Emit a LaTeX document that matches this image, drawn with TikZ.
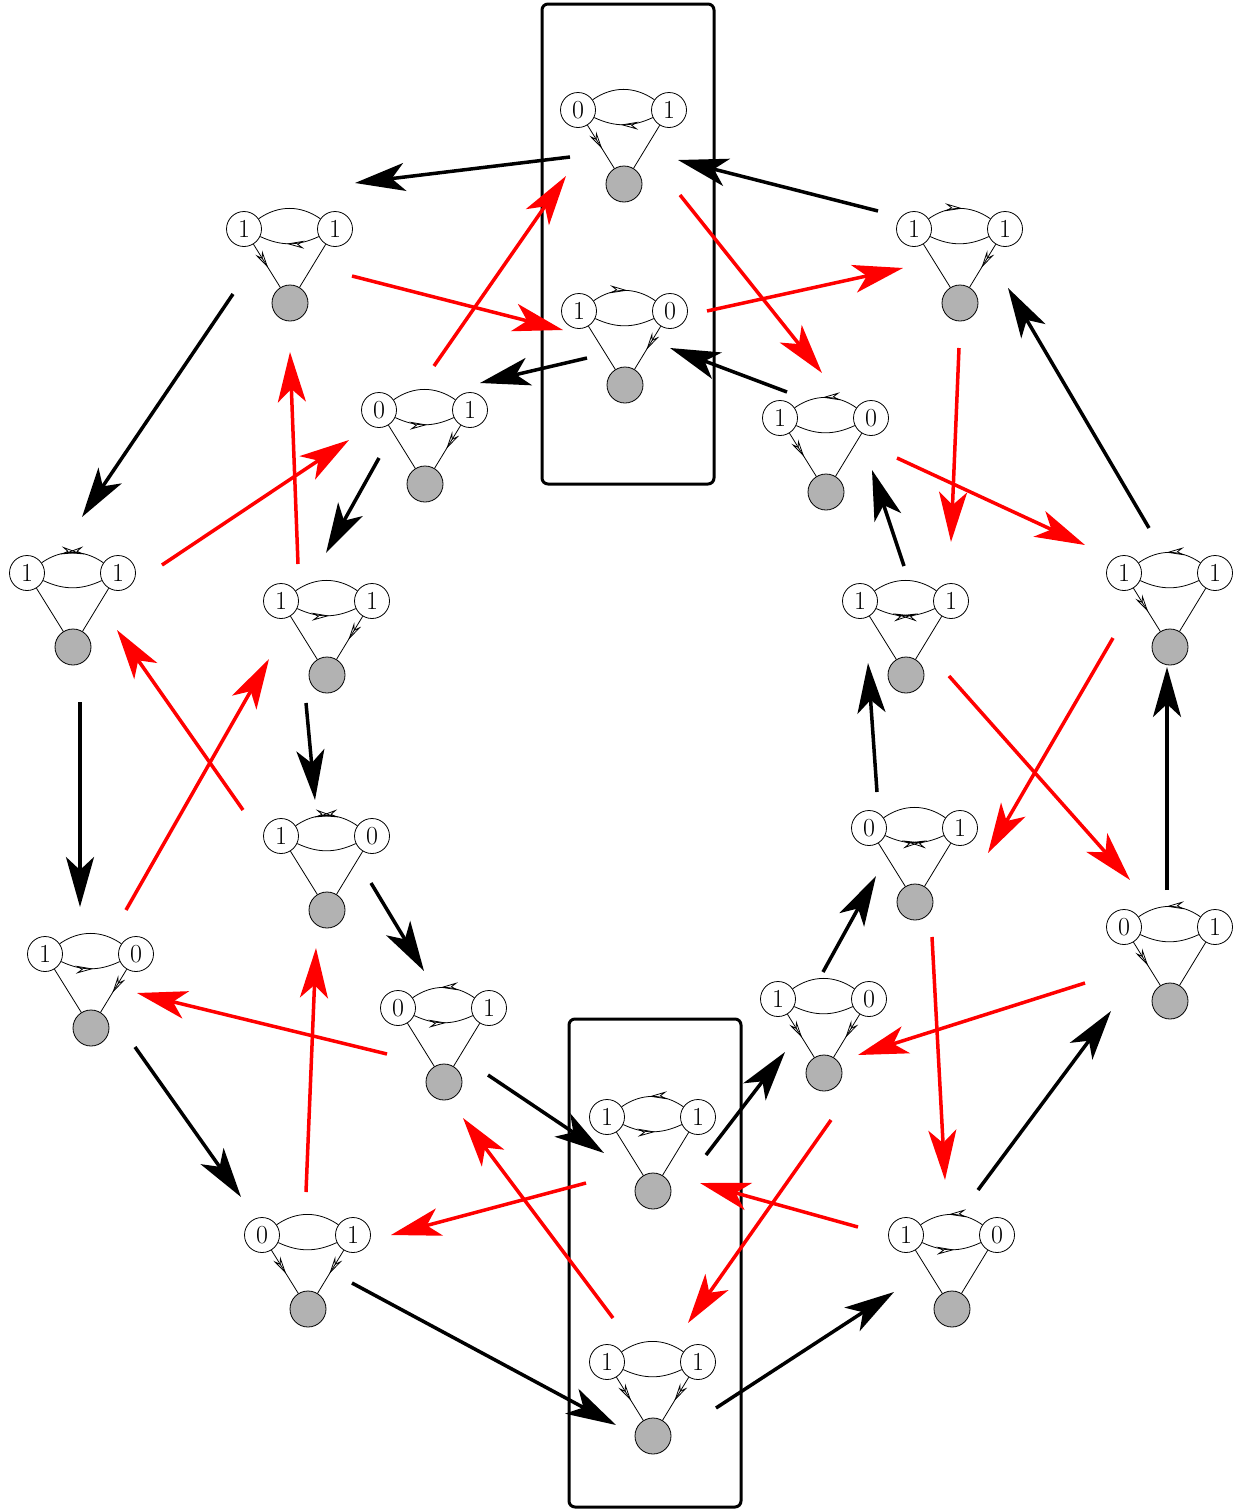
\documentclass[tikz,border=0pt]{standalone}
\usetikzlibrary{arrows.meta,decorations.markings}
\tikzset{
  st/.style={circle,draw,line width=0.8pt,minimum size=35pt,inner sep=0pt,fill=white,font=\fontsize{26}{28}\selectfont},
  gn/.style={circle,draw,line width=0.8pt,fill=black!30,minimum size=36pt,inner sep=0pt},
  ln/.style={line width=0.8pt},
  mno/.style={},
  mfw/.style={postaction={decorate,decoration={markings,mark=at position 0.55 with {\arrow{Stealth[open,length=18pt,width=8pt,inset=6pt,line width=0.8pt]}}}}},
  mbw/.style={postaction={decorate,decoration={markings,mark=at position 0.45 with {\arrowreversed{Stealth[open,length=18pt,width=8pt,inset=6pt,line width=0.8pt]}}}}},
  mfb/.style={postaction={decorate,decoration={markings,
     mark=at position 0.6 with {\arrow{Stealth[open,length=18pt,width=8pt,inset=6pt,line width=0.8pt]}},
     mark=at position 0.4 with {\arrowreversed{Stealth[open,length=18pt,width=8pt,inset=6pt,line width=0.8pt]}}}}},
  blk/.style={line width=3.5pt,-{Stealth[length=50pt,width=28pt,inset=13pt]}},
  rdar/.style={blk,red},
  frame/.style={draw,line width=3pt,rounded corners=6pt,minimum width=172pt,inner sep=0pt}
}
\newcommand\motif[9]{%
  \node[st] (#1L) at (#2,#3) {#4};
  \node[st] (#1R) at (#2+91,#3) {#5};
  \node[gn] (#1G) at (#2+46,#3+74) {};
  \draw[ln,#6] (#1L) to[bend left=35] (#1R);
  \draw[ln,#7] (#1L) to[bend right=25] (#1R);
  \draw[ln,#8] (#1L) -- (#1G);
  \draw[ln,#9] (#1R) -- (#1G);
}
\begin{document}
\begin{tikzpicture}[x=1pt,y=-1pt]
\useasboundingbox (0,0) rectangle (1234,1510);
\node[frame,minimum height=480pt] (boxtop) at (628,244) {};
\node[frame,minimum height=488pt] (boxbot) at (655,1263) {};
% motifs
\motif{m1}{578}{110}{0}{1}{mno}{mbw}{mfw}{mno}
\motif{m2}{579}{311}{1}{0}{mfw}{mno}{mno}{mfw}
\motif{m3}{244}{229}{1}{1}{mno}{mbw}{mfw}{mno}
\motif{m4}{379}{410}{0}{1}{mno}{mfw}{mno}{mfw}
\motif{m5}{914}{229}{1}{1}{mfw}{mno}{mno}{mfw}
\motif{m6}{780}{418}{1}{0}{mbw}{mno}{mfw}{mno}
\motif{m7}{27}{573}{1}{1}{mfb}{mno}{mno}{mno}
\motif{m8}{281}{601}{1}{1}{mno}{mfw}{mno}{mfw}
\motif{m9}{860}{601}{1}{1}{mno}{mfb}{mno}{mno}
\motif{m10}{1124}{573}{1}{1}{mbw}{mno}{mfw}{mno}
\motif{m11}{281}{836}{1}{0}{mfb}{mno}{mno}{mno}
\motif{m12}{869}{828}{0}{1}{mno}{mfb}{mno}{mno}
\motif{m13}{45}{954}{1}{0}{mno}{mfw}{mno}{mfw}
\motif{m14}{1124}{927}{0}{1}{mbw}{mno}{mfw}{mno}
\motif{m15}{398}{1008}{0}{1}{mbw}{mfw}{mno}{mno}
\motif{m16}{778}{999}{1}{0}{mno}{mno}{mfw}{mfw}
\motif{m17}{607}{1117}{1}{1}{mbw}{mfw}{mno}{mno}
\motif{m18}{262}{1235}{0}{1}{mno}{mno}{mfw}{mfw}
\motif{m19}{906}{1235}{1}{0}{mbw}{mfw}{mno}{mno}
\motif{m20}{607}{1362}{1}{1}{mno}{mno}{mfw}{mfw}
% arrow end points
\coordinate (b1s) at (570,157);  \coordinate (b1e) at (355,183);
\coordinate (b2s) at (878,211);  \coordinate (b2e) at (678,160);
\coordinate (b3s) at (233,294);  \coordinate (b3e) at (82,517);
\coordinate (b4s) at (587,358);  \coordinate (b4e) at (480,383);
\coordinate (b5s) at (787,392);  \coordinate (b5e) at (670,348);
\coordinate (b6s) at (1149,528); \coordinate (b6e) at (1008,288);
\coordinate (b7s) at (379,458);  \coordinate (b7e) at (326,553);
\coordinate (b8s) at (904,566);  \coordinate (b8e) at (872,470);
\coordinate (b9s) at (80,702);   \coordinate (b9e) at (80,907);
\coordinate (b10s) at (306,703); \coordinate (b10e) at (315,800);
\coordinate (b11s) at (877,792); \coordinate (b11e) at (868,663);
\coordinate (b12s) at (1167,890);\coordinate (b12e) at (1167,667);
\coordinate (b13s) at (371,883); \coordinate (b13e) at (424,971);
\coordinate (b14s) at (823,972); \coordinate (b14e) at (876,876);
\coordinate (b15s) at (135,1047);\coordinate (b15e) at (241,1197);
\coordinate (b16s) at (488,1075);\coordinate (b16e) at (604,1153);
\coordinate (b17s) at (706,1155);\coordinate (b17e) at (785,1052);
\coordinate (b18s) at (978,1190);\coordinate (b18e) at (1111,1011);
\coordinate (b19s) at (352,1283);\coordinate (b19e) at (616,1425);
\coordinate (b20s) at (716,1408);\coordinate (b20e) at (894,1292);
\coordinate (r1s) at (352,276);  \coordinate (r1e) at (563,330);
\coordinate (r2s) at (434,366);  \coordinate (r2e) at (566,176);
\coordinate (r3s) at (680,195);  \coordinate (r3e) at (822,373);
\coordinate (r4s) at (707,311);  \coordinate (r4e) at (903,268);
\coordinate (r5s) at (959,348);  \coordinate (r5e) at (951,542);
\coordinate (r6s) at (897,458);  \coordinate (r6e) at (1085,545);
\coordinate (r7s) at (162,565);  \coordinate (r7e) at (349,440);
\coordinate (r8s) at (298,564);  \coordinate (r8e) at (290,352);
\coordinate (r9s) at (243,810);  \coordinate (r9e) at (117,630);
\coordinate (r10s) at (126,910); \coordinate (r10e) at (269,659);
\coordinate (r11s) at (949,676); \coordinate (r11e) at (1130,880);
\coordinate (r12s) at (1113,638);\coordinate (r12e) at (988,853);
\coordinate (r13s) at (387,1054);\coordinate (r13e) at (137,993);
\coordinate (r14s) at (306,1192);\coordinate (r14e) at (316,948);
\coordinate (r15s) at (932,937); \coordinate (r15e) at (945,1180);
\coordinate (r16s) at (1085,983);\coordinate (r16e) at (858,1055);
\coordinate (r17s) at (586,1183);\coordinate (r17e) at (391,1235);
\coordinate (r18s) at (613,1318);\coordinate (r18e) at (463,1118);
\coordinate (r19s) at (831,1120);\coordinate (r19e) at (688,1323);
\coordinate (r20s) at (858,1227);\coordinate (r20e) at (700,1183);
\foreach \i in {1,...,20}{\draw[blk] (b\i s) -- (b\i e);}
\foreach \i in {1,...,20}{\draw[rdar] (r\i s) -- (r\i e);}
\end{tikzpicture}
\end{document}
